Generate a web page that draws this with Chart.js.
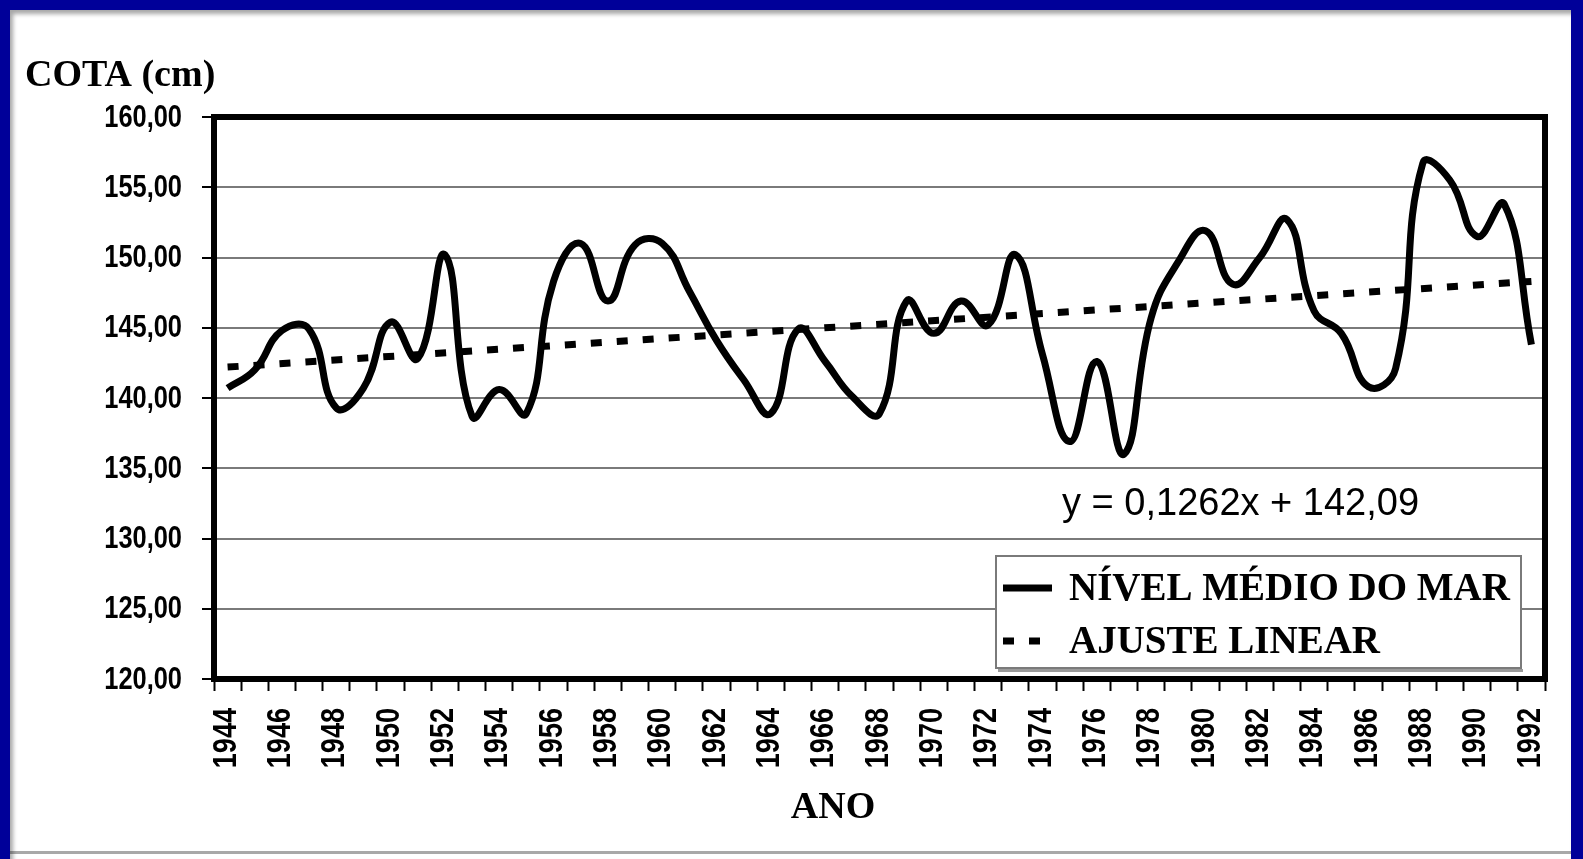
<!DOCTYPE html>
<html>
<head>
<meta charset="utf-8">
<script src="https://cdn.jsdelivr.net/npm/chart.js@4.4.1/dist/chart.umd.min.js"></script>
<style>
    html, body { margin: 0; padding: 0; background: #fff; }
    #wrap { position: relative; width: 1583px; height: 859px; overflow: hidden; }
    #frame {
        position: absolute; left: 0; top: 0; width: 1583px; height: 859px;
        box-sizing: border-box; pointer-events: none;
        border-top: 10px solid #000099; border-left: 10px solid #000099; border-right: 12px solid #000099;
        box-shadow: inset 3px 4px 4px rgba(0, 0, 0, 0.35);
    }
    #bottomLine { position: absolute; left: 10px; width: 1561px; top: 851px; height: 3px; background: #a8a8a8; }
</style>
</head>
<body>
<div id="wrap">
    <canvas id="seaChart" width="1583" height="859"></canvas>
    <div id="bottomLine"></div>
    <div id="frame"></div>
</div>
<script>
const years = [
    "1944", "1945", "1946", "1947", "1948", "1949", "1950", "1951", "1952", "1953",
    "1954", "1955", "1956", "1957", "1958", "1959", "1960", "1961", "1962", "1963",
    "1964", "1965", "1966", "1967", "1968", "1969", "1970", "1971", "1972", "1973",
    "1974", "1975", "1976", "1977", "1978", "1979", "1980", "1981", "1982", "1983",
    "1984", "1985", "1986", "1987", "1988", "1989", "1990", "1991", "1992"
];
// nivel medio do mar (cm)
const seaLevel = [
    140.7, 142.0, 144.8, 144.9, 139.3, 140.7, 145.4, 142.8, 150.2, 138.7,
    140.6, 138.9, 148.3, 151.0, 146.9, 150.9, 151.0, 147.6, 144.1, 141.3,
    138.9, 144.9, 142.6, 140.1, 138.9, 146.9, 144.6, 146.9, 145.2, 150.2,
    143.1, 136.9, 142.6, 136.0, 145.7, 149.7, 151.9, 148.1, 150.0, 152.7,
    146.2, 144.6, 140.8, 142.1, 156.7, 155.5, 151.5, 153.8, 143.8
];
// ends of the linear fit as drawn (1944 and 1992)
const trendEnds = [142.2, 148.3];
const yTicks = [120, 125, 130, 135, 140, 145, 150, 155, 160];

const seriesLabels = ["NÍVEL MÉDIO DO MAR", "AJUSTE LINEAR"];
const yTitle = "COTA (cm)";
const xTitle = "ANO";
const equationText = "y = 0,1262x + 142,09";

const sansFont = "'Liberation Sans', Arial, sans-serif";
const serifFont = "'Liberation Serif', 'Times New Roman', serif";

const trendData = years.map((y, i) => {
    if (i === 0) return trendEnds[0];
    if (i === years.length - 1) return trendEnds[1];
    return null;
});

const fmtTick = v => v.toFixed(2).replace(".", ",");

// === plot frame (thick black box) ===
const frameBox = {
    id: "frameBox",
    afterDatasetsDraw(chart) {
        const { ctx, chartArea: a } = chart;
        ctx.save();
        ctx.strokeStyle = "#000";
        ctx.lineWidth = 6;
        ctx.strokeRect(a.left, a.top, a.right - a.left, a.bottom - a.top);
        ctx.restore();
    }
};

// === narrow tick labels (Arial Narrow look) ===
const narrowTicks = {
    id: "narrowTicks",
    afterDraw(chart) {
        const ctx = chart.ctx;
        const ys = chart.scales.y;
        const xs = chart.scales.x;
        ctx.save();
        ctx.fillStyle = "#000";

        ctx.font = "bold 31px " + sansFont;
        ctx.textAlign = "right";
        ctx.textBaseline = "middle";
        yTicks.forEach(v => {
            ctx.save();
            ctx.translate(ys.right - 32, ys.getPixelForValue(v) + 1);
            ctx.scale(0.82, 1);
            ctx.fillText(fmtTick(v), 0, 0);
            ctx.restore();
        });

        ctx.font = "bold 33px " + sansFont;
        years.forEach((yr, i) => {
            if (i % 2 !== 0) return;
            ctx.save();
            ctx.translate(xs.getPixelForValue(i) - 1, xs.top + 29);
            ctx.rotate(-Math.PI / 2);
            ctx.scale(0.82, 1);
            ctx.fillText(yr, 0, 0);
            ctx.restore();
        });
        ctx.restore();
    }
};

// === titles + equation ===
const freeText = {
    id: "freeText",
    afterDraw(chart) {
        const ctx = chart.ctx;
        ctx.save();
        ctx.fillStyle = "#000";
        ctx.textBaseline = "alphabetic";
        ctx.font = "bold 38px " + serifFont;
        ctx.textAlign = "left";
        ctx.fillText(yTitle, 25, 86);
        ctx.textAlign = "center";
        ctx.fillText(xTitle, 833, 818);
        ctx.textAlign = "left";
        ctx.font = "38px " + sansFont;
        ctx.fillText(equationText, 1062, 515);
        ctx.restore();
    }
};

// === legend box inside the plot ===
const boxLegend = {
    id: "boxLegend",
    afterDraw(chart) {
        const ctx = chart.ctx;
        const x0 = 996, y0 = 556, w = 525, h = 112;
        ctx.save();
        ctx.fillStyle = "#fff";
        ctx.fillRect(x0, y0, w, h);
        ctx.strokeStyle = "#7a7a7a";
        ctx.lineWidth = 2;
        ctx.strokeRect(x0, y0, w, h);
        ctx.fillStyle = "#9a9a9a";
        ctx.fillRect(x0 + 2, y0 + h + 1, w, 3);

        chart.data.datasets.forEach((ds, i) => {
            const cy = i === 0 ? 588 : 641;
            ctx.strokeStyle = ds.borderColor;
            ctx.lineWidth = ds.borderWidth;
            ctx.lineCap = "butt";
            ctx.setLineDash(ds.borderDash || []);
            ctx.beginPath();
            ctx.moveTo(1003, cy);
            ctx.lineTo(1052, cy);
            ctx.stroke();
            ctx.setLineDash([]);
            ctx.fillStyle = "#000";
            ctx.font = "bold 39px " + serifFont;
            ctx.textAlign = "left";
            ctx.textBaseline = "alphabetic";
            ctx.fillText(ds.label, 1069, cy + 12);
        });
        ctx.restore();
    }
};

new Chart(document.getElementById("seaChart"), {
    type: "line",
    data: {
        labels: years,
        datasets: [
            {
                label: seriesLabels[0],
                data: seaLevel,
                borderColor: "#000",
                borderWidth: 7,
                tension: 0.45,
                pointRadius: 0,
                fill: false
            },
            {
                label: seriesLabels[1],
                data: trendData,
                borderColor: "#000",
                borderWidth: 7,
                borderDash: [11, 15],
                borderCapStyle: "butt",
                spanGaps: true,
                pointRadius: 0,
                fill: false
            }
        ]
    },
    options: {
        responsive: false,
        animation: false,
        layout: { padding: { top: 117, right: 38, bottom: 0, left: 0 } },
        plugins: {
            legend: { display: false },
            tooltip: { enabled: false },
            title: { display: false }
        },
        scales: {
            x: {
                offset: true,
                border: { display: false },
                grid: {
                    offset: true,
                    drawOnChartArea: false,
                    tickLength: 12,
                    tickWidth: 2,
                    tickColor: "#000"
                },
                ticks: { display: false, autoSkip: false, maxRotation: 0 },
                afterFit: s => { s.height = 859 - 679; }
            },
            y: {
                min: yTicks[0],
                max: yTicks[yTicks.length - 1],
                border: { display: false },
                afterBuildTicks: s => { s.ticks = yTicks.map(v => ({ value: v })); },
                grid: {
                    color: "#7a7a7a",
                    lineWidth: 2,
                    tickLength: 12,
                    tickWidth: 2,
                    tickColor: "#000"
                },
                ticks: { display: false },
                afterFit: s => { s.width = 214; }
            }
        }
    },
    plugins: [frameBox, narrowTicks, freeText, boxLegend]
});
</script>
</body>
</html>
